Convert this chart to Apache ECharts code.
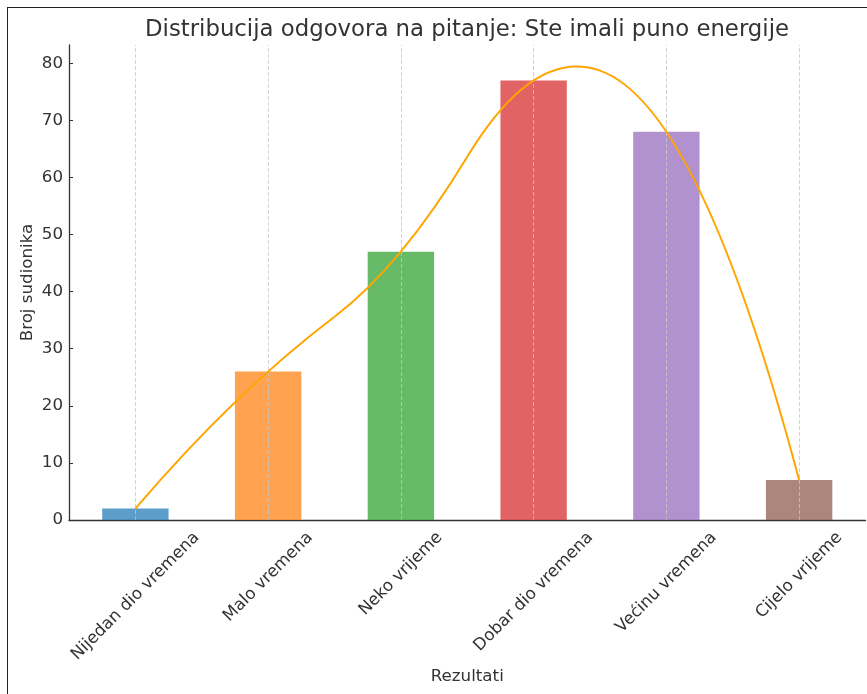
<!DOCTYPE html>
<html>
<head>
<meta charset="utf-8">
<script src="https://cdn.jsdelivr.net/npm/echarts@6/dist/echarts.min.js"></script>
<style>
  html, body { margin: 0; padding: 0; background: #fff; }
  #wrap { position: relative; width: 867px; height: 694px; overflow: hidden; }
  #chart { position: absolute; left: 0; top: 0; width: 867px; height: 694px; }
  #frame { position: absolute; left: 7px; top: 7px; width: 900px; height: 800px;
           border: 1.5px solid #222; pointer-events: none; box-sizing: border-box; }
</style>
</head>
<body>
<div id="wrap">
  <div id="chart"></div>
  <div id="frame"></div>
</div>
<script>
const categories = ['Nijedan dio vremena', 'Malo vremena', 'Neko vrijeme', 'Dobar dio vremena', 'Većinu vremena', 'Cijelo vrijeme'];
const counts = [2, 26, 47, 77, 68, 7];
const barColors = ['#1f77b4', '#ff7f0e', '#2ca02c', '#d62728', '#9467bd', '#8c564b'];
const yTicks = [0, 10, 20, 30, 40, 50, 60, 70, 80];
const titleText = 'Distribucija odgovora na pitanje: Ste imali puno energije';
const xName = 'Rezultati';
const yName = 'Broj sudionika';

const FONT = 'DejaVu Sans';
const LABEL_SIZE = 16.7;
const TITLE_SIZE = 22.8;
const GAP = 9;

// ---- quadratic interpolating spline through the bar tops (knots at midpoints) ----
function solveLinear(A, b) {
  const n = b.length;
  for (let k = 0; k < n; k++) {
    let piv = k;
    for (let i = k + 1; i < n; i++) if (Math.abs(A[i][k]) > Math.abs(A[piv][k])) piv = i;
    [A[k], A[piv]] = [A[piv], A[k]]; [b[k], b[piv]] = [b[piv], b[k]];
    for (let i = k + 1; i < n; i++) {
      const f = A[i][k] / A[k][k];
      for (let j = k; j < n; j++) A[i][j] -= f * A[k][j];
      b[i] -= f * b[k];
    }
  }
  const x = new Array(n).fill(0);
  for (let i = n - 1; i >= 0; i--) {
    let s = b[i];
    for (let j = i + 1; j < n; j++) s -= A[i][j] * x[j];
    x[i] = s / A[i][i];
  }
  return x;
}
function quadSpline(y) {
  const n = y.length;
  const xs = y.map((_, i) => i);
  const brk = [xs[0]];
  for (let i = 1; i <= n - 3; i++) brk.push((xs[i] + xs[i + 1]) / 2);
  brk.push(xs[n - 1]);
  const P = brk.length - 1;           // number of pieces
  const N = 3 * P;
  const A = [], b = [];
  const row = () => new Array(N).fill(0);
  // interpolation
  for (let i = 0; i < n; i++) {
    let j = 0;
    while (j < P - 1 && xs[i] > brk[j + 1]) j++;
    const r = row(); r[3 * j] = 1; r[3 * j + 1] = xs[i]; r[3 * j + 2] = xs[i] * xs[i];
    A.push(r); b.push(y[i]);
  }
  // continuity
  for (let j = 0; j < P - 1; j++) {
    const u = brk[j + 1];
    const r0 = row();
    r0[3 * j] = 1; r0[3 * j + 1] = u; r0[3 * j + 2] = u * u;
    r0[3 * j + 3] = -1; r0[3 * j + 4] = -u; r0[3 * j + 5] = -u * u;
    A.push(r0); b.push(0);
    const r1 = row();
    r1[3 * j + 1] = 1; r1[3 * j + 2] = 2 * u;
    r1[3 * j + 4] = -1; r1[3 * j + 5] = -2 * u;
    A.push(r1); b.push(0);
  }
  const c = solveLinear(A, b);
  const pieces = [];
  for (let j = 0; j < P; j++) pieces.push({ u: brk[j], v: brk[j + 1], a: c[3 * j], b: c[3 * j + 1], c: c[3 * j + 2] });
  return pieces;
}
const pieces = quadSpline(counts);

// measure label widths to emulate centred rotated labels
const cv = document.createElement('canvas').getContext('2d');
cv.font = LABEL_SIZE + 'px "' + FONT + '"';
const rich = {};
categories.forEach((c, i) => {
  const w = cv.measureText(c).width;
  const h = LABEL_SIZE;
  const p = 0.5 * (w + h);
  rich['l' + i] = {
    fontFamily: FONT, fontSize: LABEL_SIZE, color: '#333',
    padding: [p, p, 0, 0]
  };
});
cv.font = TITLE_SIZE + 'px "' + FONT + '"';
const titleW = cv.measureText(titleText).width;

const chart = echarts.init(document.getElementById('chart'), null, { renderer: 'canvas' });
chart.setOption({
  animation: false,
  title: {
    text: titleText,
    left: Math.round(467.5 - titleW / 2),
    top: 19,
    padding: 0,
    textStyle: { fontFamily: FONT, fontSize: TITLE_SIZE, fontWeight: 'normal', color: '#333' }
  },
  grid: { left: 69, right: 1.5, top: 45, bottom: 174, containLabel: false },
  xAxis: {
    type: 'category',
    data: categories,
    boundaryGap: true,
    name: xName,
    nameLocation: 'middle',
    nameGap: 148,
    nameMoveOverlap: false,
    nameTextStyle: { fontFamily: FONT, fontSize: 16.7, color: '#333' },
    axisLine: { lineStyle: { color: '#333', width: 1.3 } },
    axisTick: { show: true, alignWithLabel: true, inside: true, length: 4, lineStyle: { color: '#333' } },
    axisLabel: {
      interval: 0,
      rotate: 45,
      align: 'center',
      verticalAlign: 'middle',
      margin: GAP,
      formatter: (v, i) => '{l' + i + '|' + v + '}',
      rich: rich
    },
    splitLine: { show: false }
  },
  yAxis: {
    type: 'value',
    min: 0,
    max: 83.2,
    interval: 10,
    name: yName,
    nameLocation: 'middle',
    nameGap: 33,
    nameRotate: 90,
    nameMoveOverlap: false,
    nameTextStyle: { fontFamily: FONT, fontSize: 16.7, color: '#333' },
    axisLine: { show: true, lineStyle: { color: '#333', width: 1.3 } },
    axisTick: { show: true, inside: true, length: 4, customValues: yTicks, lineStyle: { color: '#333' } },
    axisLabel: { customValues: yTicks, fontFamily: FONT, fontSize: 16.7, color: '#333', margin: 6 },
    splitLine: { show: false }
  },
  series: [
    {
      type: 'bar',
      data: counts.map((v, i) => ({ value: v, itemStyle: { color: barColors[i], opacity: 0.72 } })),
      barWidth: '50%',
      markLine: {
        silent: true,
        symbol: 'none',
        label: { show: false },
        lineStyle: { color: '#c8c8c8', type: [4, 2], width: 0.8 },
        data: categories.map(c => ({ xAxis: c }))
      }
    },
    {
      type: 'custom',
      data: counts.map((v, i) => [i, v]),
      encode: { x: 0, y: 1 },
      z: 5,
      silent: true,
      renderItem: function (params, api) {
        const j = params.dataIndex;
        if (j >= pieces.length) return { type: 'group', children: [] };
        const pc = pieces[j];
        const x0 = api.coord([0, 0])[0];
        const step = api.coord([1, 0])[0] - x0;
        const f = x => pc.a + pc.b * x + pc.c * x * x;
        const df = x => pc.b + 2 * pc.c * x;
        const u = pc.u, v = pc.v;
        const qx = (u + v) / 2, qy = f(u) + df(u) * (v - u) / 2;
        const py = val => api.coord([0, val])[1];
        const px = x => x0 + x * step;
        const X0 = px(u), Y0 = py(f(u)), X2 = px(v), Y2 = py(f(v)), QX = px(qx), QY = py(qy);
        return {
          type: 'bezierCurve',
          shape: {
            x1: X0, y1: Y0,
            cpx1: X0 + 2 / 3 * (QX - X0), cpy1: Y0 + 2 / 3 * (QY - Y0),
            cpx2: X2 + 2 / 3 * (QX - X2), cpy2: Y2 + 2 / 3 * (QY - Y2),
            x2: X2, y2: Y2
          },
          style: { stroke: '#FFA500', lineWidth: 2, fill: null }
        };
      }
    }
  ]
});
</script>
</body>
</html>
